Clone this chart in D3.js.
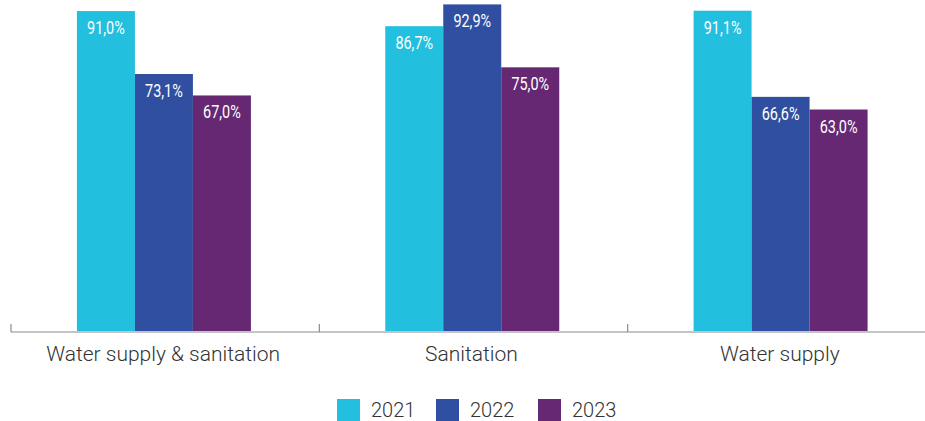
<!DOCTYPE html>
<html>
<head>
<meta charset="utf-8">
<script src="https://cdn.jsdelivr.net/npm/d3@7"></script>
<style>
  html, body { margin: 0; padding: 0; background: #fff; }
  svg { display: block; }
</style>
</head>
<body>
<svg id="chart" width="925" height="421"></svg>
<script>
// Category groups and per-year shares (%)
const categories = ["Water supply & sanitation", "Sanitation", "Water supply"];
const years = ["2021", "2022", "2023"];
const values2021 = [91.0, 86.7, 91.1];
const values2022 = [73.1, 92.9, 66.6];
const values2023 = [67.0, 75.0, 63.0];
const yearColors = ["#22bfdf", "#304fa0", "#662873"];

const series = [values2021, values2022, values2023];
const data = categories.map((c, i) => ({
  category: c,
  items: years.map((y, k) => ({ year: y, value: series[k][i] }))
}));

const svg = d3.select("#chart");
const baseline = 331;
const axisLeft = 11, axisRight = 936;

const x0 = d3.scaleBand().domain(categories).range([axisLeft, axisRight]).padding(0);
const barW = 58;
const x1 = d3.scaleBand().domain(years).range([0, barW * years.length]).padding(0);
const y = d3.scaleLinear().domain([0, 94.15]).range([baseline, 0]);
const color = d3.scaleOrdinal().domain(years).range(yearColors);

const groupOffset = (x0.bandwidth() - barW * years.length) / 2 - 1.25;

const groups = svg.append("g").selectAll("g")
  .data(data).join("g")
  .attr("transform", d => `translate(${x0(d.category) + groupOffset},0)`);

groups.selectAll("rect")
  .data(d => d.items).join("rect")
  .attr("x", d => x1(d.year))
  .attr("y", d => y(d.value))
  .attr("width", x1.bandwidth())
  .attr("height", d => baseline - y(d.value))
  .attr("fill", d => color(d.year));

// Value labels in a narrow face: Roboto squeezed horizontally
const fmt = v => v.toFixed(1).replace(".", ",") + "%";
groups.selectAll("text.val")
  .data(d => d.items).join("text")
  .attr("class", "val")
  .attr("transform", d => `translate(${x1(d.year) + x1.bandwidth() / 2},${y(d.value) + 23}) scale(0.76,1)`)
  .attr("text-anchor", "middle")
  .attr("fill", "#ffffff")
  .style("font-family", "Roboto, sans-serif")
  .style("font-size", "19px")
  .text(d => fmt(d.value));

// Category axis along the baseline
const axis = svg.append("g").attr("transform", `translate(0,${baseline + 1})`);
axis.append("line")
  .attr("x1", axisLeft).attr("x2", axisRight)
  .attr("stroke", "#8a8a8a").attr("stroke-width", 1.2);
const tickXs = categories.map(c => x0(c)).concat([x0.range()[1]]);
axis.selectAll("line.tick")
  .data(tickXs).join("line")
  .attr("class", "tick")
  .attr("x1", d => d).attr("x2", d => d)
  .attr("y1", -8).attr("y2", 0)
  .attr("stroke", "#8a8a8a").attr("stroke-width", 1.2);
axis.selectAll("text")
  .data(categories).join("text")
  .attr("x", c => x0(c) + x0.bandwidth() / 2 - 2)
  .attr("y", 29)
  .attr("text-anchor", "middle")
  .attr("fill", "#333333")
  .style("font-family", "Roboto, sans-serif")
  .style("font-weight", 300)
  .style("font-size", "21px")
  .text(c => c);

// Legend
const legendX = [337, 436, 538];
const legend = svg.append("g").selectAll("g")
  .data(years).join("g")
  .attr("transform", (d, i) => `translate(${legendX[i]},399)`);
legend.append("rect")
  .attr("width", 23).attr("height", 22)
  .attr("fill", d => color(d));
legend.append("text")
  .attr("x", 34).attr("y", 18)
  .attr("fill", "#333333")
  .style("font-family", "Roboto, sans-serif")
  .style("font-weight", 300)
  .style("font-size", "20px")
  .text(d => d);
</script>
</body>
</html>
